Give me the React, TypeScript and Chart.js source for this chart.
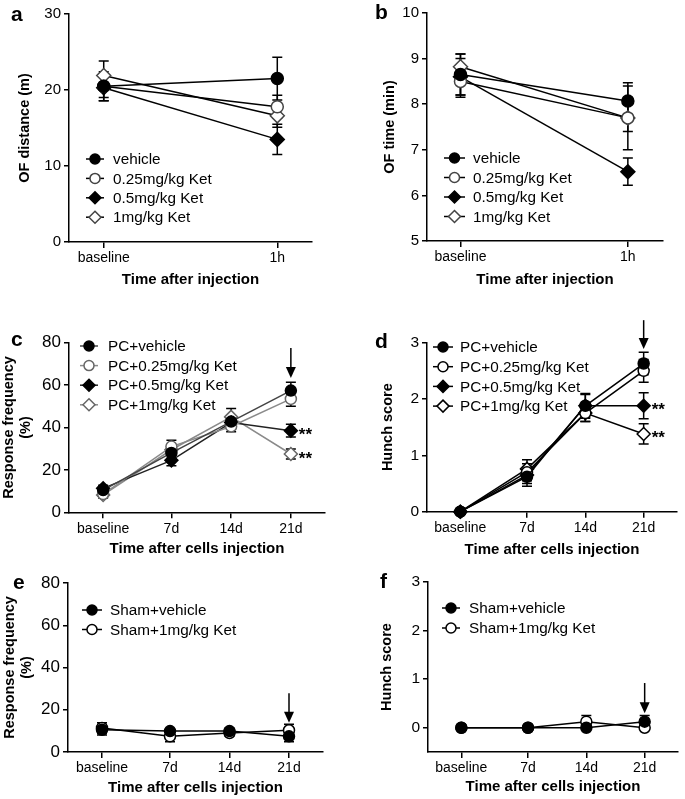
import React, { useEffect, useRef } from 'react';
import { Chart, registerables } from 'chart.js';

Chart.register(...registerables);
Chart.defaults.font.family = "'Liberation Sans', Arial, Helvetica, sans-serif";
Chart.defaults.color = '#000';

// ---------------- DATA ----------------
const abTimeLabels = ['baseline', '1h'];
const abTimePos = [0, 1];
const cfTimeLabels = ['baseline', '7d', '14d', '21d'];
const cfTimePos = [-1, 7, 14, 21];

const abSeriesNames = ['vehicle', '0.25mg/kg Ket', '0.5mg/kg Ket', '1mg/kg Ket'];
const pcSeriesNames = ['PC+vehicle', 'PC+0.25mg/kg Ket', 'PC+0.5mg/kg Ket', 'PC+1mg/kg Ket'];
const shamSeriesNames = ['Sham+vehicle', 'Sham+1mg/kg Ket'];

// a: OF distance (m)
const distVehicle = [20.5, 21.5];
const distVehicleErr = [1.9, 2.8];
const dist025 = [20.5, 17.8];
const dist025Err = [1.5, 1.5];
const dist05 = [20.3, 13.5];
const dist05Err = [1.7, 2.0];
const dist1 = [21.9, 16.6];
const dist1Err = [1.9, 1.5];

// b: OF time (min)
const ofTimeVehicle = [8.65, 8.07];
const ofTimeVehicleErr = [0.45, 0.4];
const ofTime025 = [8.5, 7.7];
const ofTime025Err = [0.35, 0.7];
const ofTime05 = [8.6, 6.52];
const ofTime05Err = [0.4, 0.3];
const ofTime1 = [8.82, 7.7];
const ofTime1Err = [0.28, 0.3];

// c: Response frequency (%) PC
const respPcVehicle = [10.5, 28, 42.8, 57.4];
const respPcVehicleErr = [1.5, 2.5, 2.5, 4];
const respPc025 = [8.6, 31, 40.5, 53.5];
const respPc025Err = [1.5, 3, 2.5, 3.5];
const respPc05 = [11.3, 24.5, 42.3, 38.5];
const respPc05Err = [1.5, 2.5, 3, 3];
const respPc1 = [8.2, 29.5, 45, 27.5];
const respPc1Err = [1.5, 2.5, 4, 2.3];

// d: Hunch score PC
const hunchPcVehicle = [0, 0.62, 1.88, 2.63];
const hunchPcVehicleErr = [0, 0.17, 0.22, 0.2];
const hunchPc025 = [0, 0.7, 1.75, 2.5];
const hunchPc025Err = [0, 0.15, 0.15, 0.2];
const hunchPc05 = [0, 0.65, 1.88, 1.88];
const hunchPc05Err = [0, 0.15, 0.2, 0.23];
const hunchPc1 = [0, 0.76, 1.75, 1.38];
const hunchPc1Err = [0, 0.16, 0.15, 0.18];

// e: Response frequency (%) Sham
const respShamVehicle = [10.5, 9.9, 9.9, 7.4];
const respShamVehicleErr = [2.5, 1, 1.5, 2.5];
const respSham1 = [11.4, 7.4, 9, 10.3];
const respSham1Err = [2.5, 2.5, 1.5, 2.8];

// f: Hunch score Sham
const hunchShamVehicle = [0, 0, 0, 0.125];
const hunchShamVehicleErr = [0, 0, 0, 0.125];
const hunchSham1 = [0, 0, 0.125, 0];
const hunchSham1Err = [0, 0, 0.125, 0];

// annotations (data units)
const arrowC = { x: 21, from: 77.5, to: 63.3 };
const arrowD = { x: 21, from: 3.4, to: 2.89 };
const arrowE = { x: 21, from: 27.8, to: 13.9 };
const arrowF = { x: 21, from: 0.92, to: 0.3 };
const starsCD = [{ dataset: 2, index: 3 }, { dataset: 3, index: 3 }];

// ---------------- HELPERS ----------------
const FONT = "'Liberation Sans', Arial, Helvetica, sans-serif";

function series(label: string, xs: number[], ys: number[], errs: number[], kind: string, line: string, stroke: string, size: number) {
  const filled = kind[0] === 'f';
  const circle = kind[1] === 'c';
  return {
    label,
    data: xs.map((x, i) => ({ x, y: ys[i] })),
    errors: errs,
    showLine: true,
    borderColor: line,
    borderWidth: 1.5,
    tension: 0,
    pointStyle: circle ? 'circle' : 'rectRot',
    pointRadius: circle ? size : size + 1,
    pointBackgroundColor: filled ? '#000' : '#fff',
    pointBorderColor: filled ? '#000' : stroke,
    pointBorderWidth: 1.5,
    clip: false,
  };
}

function drawMarker(ctx: CanvasRenderingContext2D, style: string, x: number, y: number, r: number, fill: string, stroke: string) {
  ctx.beginPath();
  if (style === 'circle') {
    ctx.arc(x, y, r, 0, Math.PI * 2);
  } else {
    ctx.moveTo(x, y - r);
    ctx.lineTo(x + r, y);
    ctx.lineTo(x, y + r);
    ctx.lineTo(x - r, y);
    ctx.closePath();
  }
  ctx.fillStyle = fill;
  ctx.fill();
  ctx.lineWidth = 1.5;
  ctx.strokeStyle = stroke;
  ctx.stroke();
}

const errorBarPlugin = {
  id: 'errorBars',
  beforeDatasetsDraw(chart: any) {
    const ctx = chart.ctx;
    const ys = chart.scales.y;
    ctx.save();
    ctx.strokeStyle = '#000';
    ctx.lineWidth = 1.5;
    chart.data.datasets.forEach((ds: any, i: number) => {
      const meta = chart.getDatasetMeta(i);
      const errs = ds.errors;
      if (!errs) return;
      meta.data.forEach((pt: any, j: number) => {
        const e = errs[j];
        if (!e) return;
        const v = ds.data[j].y;
        const yt = ys.getPixelForValue(v + e);
        const yb = ys.getPixelForValue(v - e);
        ctx.beginPath();
        ctx.moveTo(pt.x, yt);
        ctx.lineTo(pt.x, yb);
        ctx.moveTo(pt.x - 5, yt);
        ctx.lineTo(pt.x + 5, yt);
        ctx.moveTo(pt.x - 5, yb);
        ctx.lineTo(pt.x + 5, yb);
        ctx.stroke();
      });
    });
    ctx.restore();
  },
};

const annotPlugin = {
  id: 'annot',
  afterDatasetsDraw(chart: any, _args: any, opts: any) {
    const ctx = chart.ctx;
    const xs = chart.scales.x;
    const ys = chart.scales.y;
    ctx.save();
    if (opts.arrow) {
      const a = opts.arrow;
      const px = xs.getPixelForValue(a.x);
      const y1 = ys.getPixelForValue(a.from);
      const y2 = ys.getPixelForValue(a.to);
      ctx.strokeStyle = '#000';
      ctx.lineWidth = 1.5;
      ctx.beginPath();
      ctx.moveTo(px, y1);
      ctx.lineTo(px, y2 - 8);
      ctx.stroke();
      ctx.fillStyle = '#000';
      ctx.beginPath();
      ctx.moveTo(px - 5, y2 - 11);
      ctx.lineTo(px + 5, y2 - 11);
      ctx.lineTo(px, y2);
      ctx.closePath();
      ctx.fill();
    }
    if (opts.stars) {
      ctx.fillStyle = '#000';
      ctx.font = `bold 17px ${FONT}`;
      ctx.textAlign = 'left';
      ctx.textBaseline = 'alphabetic';
      opts.stars.forEach((s: any) => {
        const pt = chart.getDatasetMeta(s.dataset).data[s.index];
        ctx.fillText('**', pt.x + 8, pt.y + 9.5);
      });
    }
    ctx.restore();
  },
};

const legendPlugin = {
  id: 'panelLegend',
  afterDraw(chart: any, _args: any, opts: any) {
    if (!opts || !opts.display) return;
    const ctx = chart.ctx;
    ctx.save();
    chart.data.datasets.forEach((ds: any, i: number) => {
      const y = opts.y + i * opts.row;
      ctx.strokeStyle = ds.borderColor;
      ctx.lineWidth = 1.5;
      ctx.beginPath();
      ctx.moveTo(opts.x, y);
      ctx.lineTo(opts.x + opts.len, y);
      ctx.stroke();
      const isCircle = ds.pointStyle === 'circle';
      drawMarker(ctx, ds.pointStyle, opts.x + opts.len / 2, y, isCircle ? 5 : 6, ds.pointBackgroundColor, ds.pointBorderColor);
      ctx.fillStyle = '#000';
      ctx.font = `15.3px ${FONT}`;
      ctx.textAlign = 'left';
      ctx.textBaseline = 'middle';
      ctx.fillText(ds.label, opts.textX, y + 1);
    });
    ctx.restore();
  },
};

// ---------------- PANELS ----------------
const dark = '#000';
const grayLine = '#8a8a8a';
const grayStroke = '#666';

const panels: any[] = [
  {
    key: 'a', letter: 'a', letterX: 11, letterBase: 21,
    left: 0, top: 0, width: 340, height: 289,
    area: { l: 69, t: 14, r: 312, b: 242 },
    x: { min: -0.2, max: 1.2, pos: abTimePos, labels: abTimeLabels, title: 'Time after injection' },
    y: { min: 0, max: 30, step: 10, title: 'OF distance (m)', titleCenter: 25, tickSize: 15 },
    datasets: [
      series(abSeriesNames[0], abTimePos, distVehicle, distVehicleErr, 'fc', dark, dark, 6),
      series(abSeriesNames[1], abTimePos, dist025, dist025Err, 'oc', dark, '#444', 6),
      series(abSeriesNames[2], abTimePos, dist05, dist05Err, 'fd', dark, dark, 6),
      series(abSeriesNames[3], abTimePos, dist1, dist1Err, 'od', dark, '#444', 6),
    ],
    legend: { x: 86, y: 159, len: 18, textX: 113, row: 19.4 },
  },
  {
    key: 'b', letter: 'b', letterX: 375, letterBase: 18.5,
    left: 340, top: 0, width: 345, height: 289,
    area: { l: 427, t: 13, r: 663, b: 241 },
    x: { min: -0.2, max: 1.21, pos: abTimePos, labels: abTimeLabels, title: 'Time after injection' },
    y: { min: 5, max: 10, step: 1, title: 'OF time (min)', titleCenter: 390, tickSize: 15 },
    datasets: [
      series(abSeriesNames[0], abTimePos, ofTimeVehicle, ofTimeVehicleErr, 'fc', dark, dark, 6),
      series(abSeriesNames[1], abTimePos, ofTime025, ofTime025Err, 'oc', dark, '#444', 6),
      series(abSeriesNames[2], abTimePos, ofTime05, ofTime05Err, 'fd', dark, dark, 6),
      series(abSeriesNames[3], abTimePos, ofTime1, ofTime1Err, 'od', dark, '#444', 6),
    ],
    legend: { x: 444, y: 158, len: 21, textX: 473, row: 19.5 },
  },
  {
    key: 'c', letter: 'c', letterX: 11, letterBase: 346,
    left: 0, top: 289, width: 340, height: 269,
    area: { l: 69, t: 342.7, r: 325, b: 512.3 },
    x: { min: -5, max: 25, pos: cfTimePos, labels: cfTimeLabels, title: 'Time after cells injection' },
    y: { min: 0, max: 80, step: 20, title: ['Response frequency', '(%)'], titleCenter: 8.6, tickSize: 17 },
    datasets: [
      series(pcSeriesNames[0], cfTimePos, respPcVehicle, respPcVehicleErr, 'fc', '#444', dark, 5.5),
      series(pcSeriesNames[1], cfTimePos, respPc025, respPc025Err, 'oc', grayLine, grayStroke, 5.5),
      series(pcSeriesNames[2], cfTimePos, respPc05, respPc05Err, 'fd', '#222', dark, 5.5),
      series(pcSeriesNames[3], cfTimePos, respPc1, respPc1Err, 'od', grayLine, grayStroke, 5.5),
    ],
    legend: { x: 80, y: 346, len: 18, textX: 108, row: 19.6 },
    arrow: arrowC, stars: starsCD,
  },
  {
    key: 'd', letter: 'd', letterX: 375, letterBase: 348,
    left: 340, top: 289, width: 345, height: 270,
    area: { l: 427, t: 342.7, r: 683, b: 511.7 },
    x: { min: -5, max: 25, pos: cfTimePos, labels: cfTimeLabels, title: 'Time after cells injection' },
    y: { min: 0, max: 3, step: 1, title: 'Hunch score', titleCenter: 388, tickSize: 15.5 },
    datasets: [
      series(pcSeriesNames[0], cfTimePos, hunchPcVehicle, hunchPcVehicleErr, 'fc', dark, dark, 5.5),
      series(pcSeriesNames[1], cfTimePos, hunchPc025, hunchPc025Err, 'oc', dark, dark, 5.5),
      series(pcSeriesNames[2], cfTimePos, hunchPc05, hunchPc05Err, 'fd', dark, dark, 5.5),
      series(pcSeriesNames[3], cfTimePos, hunchPc1, hunchPc1Err, 'od', dark, dark, 5.5),
    ],
    legend: { x: 433, y: 347, len: 20, textX: 460, row: 19.7 },
    arrow: arrowD, stars: starsCD,
  },
  {
    key: 'e', letter: 'e', letterX: 13, letterBase: 589,
    left: 0, top: 558, width: 340, height: 239,
    area: { l: 68, t: 583, r: 323, b: 752 },
    x: { min: -5, max: 25, pos: cfTimePos, labels: cfTimeLabels, title: 'Time after cells injection' },
    y: { min: 0, max: 80, step: 20, title: ['Response frequency', '(%)'], titleCenter: 10, tickSize: 17 },
    datasets: [
      series(shamSeriesNames[0], cfTimePos, respShamVehicle, respShamVehicleErr, 'fc', dark, dark, 5.5),
      series(shamSeriesNames[1], cfTimePos, respSham1, respSham1Err, 'oc', dark, dark, 5.5),
    ],
    legend: { x: 82, y: 610, len: 20, textX: 110, row: 19.5 },
    arrow: arrowE,
  },
  {
    key: 'f', letter: 'f', letterX: 380, letterBase: 588,
    left: 340, top: 559, width: 345, height: 237,
    area: { l: 428, t: 582, r: 683, b: 752 },
    x: { min: -5, max: 25, pos: cfTimePos, labels: cfTimeLabels, title: 'Time after cells injection' },
    y: { min: -0.5, max: 3, step: 1, ticksAt: [0, 1, 2, 3], title: 'Hunch score', titleCenter: 387, tickSize: 15.5 },
    datasets: [
      series(shamSeriesNames[0], cfTimePos, hunchShamVehicle, hunchShamVehicleErr, 'fc', dark, dark, 5.5),
      series(shamSeriesNames[1], cfTimePos, hunchSham1, hunchSham1Err, 'oc', dark, dark, 5.5),
    ],
    legend: { x: 442, y: 608, len: 18, textX: 469, row: 20 },
    arrow: arrowF,
  },
];

function buildConfig(p: any) {
  const aL = p.area.l - p.left;
  const aT = p.area.t - p.top;
  const aR = p.area.r - p.left;
  const aB = p.area.b - p.top;
  const yTitleFont = { size: 14.5, weight: 'bold' as const, family: FONT, lineHeight: 1.2 };
  const yTitlePad = Math.max(0, p.y.titleCenter - p.left - 14.5 * 1.2 / 2);
  return {
    type: 'line' as const,
    data: { datasets: p.datasets },
    options: {
      responsive: false,
      animation: false as const,
      devicePixelRatio: 1,
      layout: { padding: { left: 0, top: aT, right: p.width - aR, bottom: 0 } },
      events: [],
      plugins: {
        legend: { display: false },
        tooltip: { enabled: false },
        panelLegend: {
          display: true,
          x: p.legend.x - p.left,
          y: p.legend.y - p.top,
          len: p.legend.len,
          textX: p.legend.textX - p.left,
          row: p.legend.row,
        },
        annot: { arrow: p.arrow || null, stars: p.stars || null },
      },
      scales: {
        x: {
          type: 'linear' as const,
          min: p.x.min,
          max: p.x.max,
          afterBuildTicks: (s: any) => {
            s.ticks = p.x.pos.map((v: number) => ({ value: v }));
          },
          afterFit: (s: any) => {
            s.height = p.height - aB;
          },
          ticks: {
            callback: (v: any) => p.x.labels[p.x.pos.indexOf(v)],
            font: { size: 14, family: FONT },
            color: '#000',
            padding: 2,
            maxRotation: 0,
            autoSkip: false,
          },
          grid: { display: true, drawOnChartArea: false, drawTicks: true, tickLength: 6, color: '#000', lineWidth: 1.5, tickColor: '#000', tickWidth: 1.5 },
          border: { display: true, color: '#000', width: 1.5 },
          title: { display: true, text: p.x.title, color: '#000', font: { size: 15, weight: 'bold' as const, family: FONT, lineHeight: 1.2 }, padding: { top: 0, bottom: 0 } },
        },
        y: {
          type: 'linear' as const,
          min: p.y.min,
          max: p.y.max,
          afterBuildTicks: p.y.ticksAt
            ? (s: any) => {
                s.ticks = p.y.ticksAt.map((v: number) => ({ value: v }));
              }
            : undefined,
          afterFit: (s: any) => {
            s.width = aL;
          },
          ticks: {
            stepSize: p.y.step,
            font: { size: p.y.tickSize, family: FONT },
            color: '#000',
            padding: 3,
          },
          grid: { display: true, drawOnChartArea: false, drawTicks: true, tickLength: 5, color: '#000', lineWidth: 1.5, tickColor: '#000', tickWidth: 1.5 },
          border: { display: true, color: '#000', width: 1.5 },
          title: { display: true, text: p.y.title, color: '#000', font: yTitleFont, padding: { top: yTitlePad, bottom: 0 } },
        },
      },
    },
    plugins: [errorBarPlugin, annotPlugin, legendPlugin],
  };
}

function Panel({ p }: { p: any }) {
  const ref = useRef<HTMLCanvasElement>(null);
  useEffect(() => {
    const chart = new Chart(ref.current as HTMLCanvasElement, buildConfig(p) as any);
    return () => chart.destroy();
  }, []);
  return (
    <canvas
      ref={ref}
      width={p.width}
      height={p.height}
      style={{ position: 'absolute', left: p.left, top: p.top, width: p.width, height: p.height }}
    />
  );
}

export default function App() {
  return (
    <div style={{ position: 'absolute', left: 0, top: 0, width: 685, height: 799, background: '#fff', overflow: 'hidden' }}>
      {panels.map((p) => (
        <Panel key={p.key} p={p} />
      ))}
      {panels.map((p) => (
        <div
          key={'l' + p.key}
          style={{
            position: 'absolute',
            left: p.letterX,
            top: p.letterBase - 17.8,
            fontFamily: FONT,
            fontWeight: 'bold',
            fontSize: 21,
            lineHeight: '21px',
            color: '#000',
          }}
        >
          {p.letter}
        </div>
      ))}
    </div>
  );
}
